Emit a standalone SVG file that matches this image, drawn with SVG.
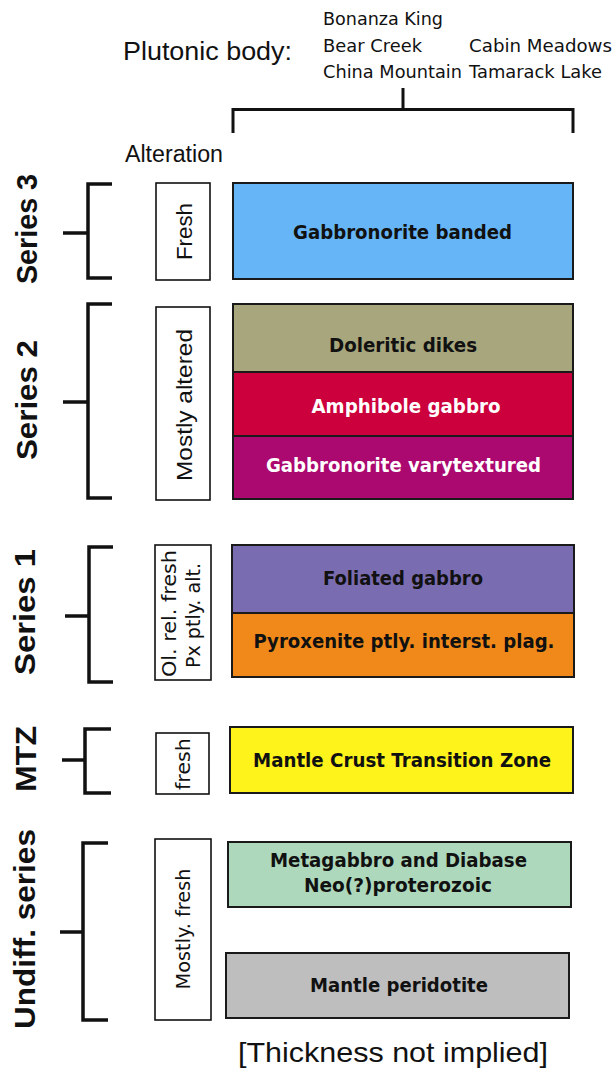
<svg xmlns="http://www.w3.org/2000/svg" width="614" height="1068" viewBox="0 0 614 1068">
<style>
.bg{fill:#ffffff}
.br{fill:none;stroke:#111;stroke-width:3.5;stroke-linecap:butt;stroke-linejoin:miter}
.alt{fill:#ffffff;stroke:#111;stroke-width:1.6}
.lay{stroke:#1a1a1a;stroke-width:2}
.ser{font-family:"Liberation Sans",Arial,sans-serif;font-weight:bold;font-size:30px;fill:#111;text-anchor:middle}
.at{font-family:"Liberation Sans",Arial,sans-serif;font-size:22px;fill:#111;text-anchor:middle}
.at2{font-family:"DejaVu Sans",Verdana,sans-serif;font-size:20px;fill:#111;text-anchor:middle}
.lt{font-family:"DejaVu Sans",Verdana,sans-serif;font-weight:bold;font-size:20px;fill:#111;text-anchor:middle}
.wt{fill:#ffffff}
.pb{font-family:"DejaVu Sans",Verdana,sans-serif;font-size:18px;fill:#111}
.hd{font-family:"Liberation Sans",Arial,sans-serif;fill:#111}
</style>
<rect class="bg" x="0" y="0" width="614" height="1068"/>

<g id="header">
<text class="hd" x="123" y="60" font-size="26" textLength="169" lengthAdjust="spacingAndGlyphs">Plutonic body:</text>
<text class="pb" x="323" y="25" textLength="120" lengthAdjust="spacingAndGlyphs">Bonanza King</text>
<text class="pb" x="323" y="52" textLength="99" lengthAdjust="spacingAndGlyphs">Bear Creek</text>
<text class="pb" x="323" y="78" textLength="139" lengthAdjust="spacingAndGlyphs">China Mountain</text>
<text class="pb" x="469" y="52" textLength="143" lengthAdjust="spacingAndGlyphs">Cabin Meadows</text>
<text class="pb" x="469" y="78" textLength="133" lengthAdjust="spacingAndGlyphs">Tamarack Lake</text>
<text class="hd" x="125" y="162" font-size="23" textLength="98" lengthAdjust="spacingAndGlyphs">Alteration</text>
</g>

<g id="connectors">
<path class="br" style="stroke-width:3" d="M233,133 V109.5 H573 V133 M403,88 V109.5"/>
<path class="br" d="M112,184 H88 V278 H112 M63,233 H88"/>
<path class="br" d="M112,304 H88 V498 H112 M63,402 H88"/>
<path class="br" d="M113,547 H89 V682 H113 M65,616 H89"/>
<path class="br" d="M111,729 H85 V793 H111 M62,760 H85"/>
<path class="br" d="M108,843 H83 V1020 H108 M60,932 H83"/>
</g>

<g id="series3">
<text class="ser" transform="translate(37,229) rotate(-90)" textLength="110" lengthAdjust="spacingAndGlyphs">Series 3</text>
<rect class="alt" x="156" y="183" width="54" height="97"/>
<text class="at" transform="translate(192,231.5) rotate(-90)" textLength="57" lengthAdjust="spacingAndGlyphs">Fresh</text>
<rect class="lay" x="233" y="183" width="340" height="96" fill="#66b5f6"/>
<text class="lt" x="402.5" y="239" textLength="219" lengthAdjust="spacingAndGlyphs">Gabbronorite banded</text>
</g>

<g id="series2">
<text class="ser" transform="translate(37,400) rotate(-90)" textLength="120" lengthAdjust="spacingAndGlyphs">Series 2</text>
<rect class="alt" x="156" y="307" width="54" height="193"/>
<text class="at" transform="translate(192,405) rotate(-90)" textLength="152" lengthAdjust="spacingAndGlyphs">Mostly altered</text>
<rect class="lay" x="233" y="304" width="340" height="68" fill="#a8a67c"/>
<text class="lt" x="403" y="352" textLength="148" lengthAdjust="spacingAndGlyphs">Doleritic dikes</text>
<rect class="lay" x="233" y="372" width="340" height="64" fill="#cc003c"/>
<text class="lt wt" x="406" y="413" textLength="189" lengthAdjust="spacingAndGlyphs">Amphibole gabbro</text>
<rect class="lay" x="233" y="436" width="340" height="63" fill="#ab0870"/>
<text class="lt wt" x="403.5" y="472" textLength="275" lengthAdjust="spacingAndGlyphs">Gabbronorite varytextured</text>
</g>

<g id="series1">
<text class="ser" transform="translate(35,612) rotate(-90)" textLength="126" lengthAdjust="spacingAndGlyphs">Series 1</text>
<rect class="alt" x="155" y="545" width="56" height="135"/>
<text class="at2" transform="translate(176,613.5) rotate(-90)" textLength="127" lengthAdjust="spacingAndGlyphs">Ol. rel. fresh</text>
<text class="at2" transform="translate(200,615.5) rotate(-90)" textLength="105" lengthAdjust="spacingAndGlyphs">Px ptly. alt.</text>
<rect class="lay" x="232" y="545" width="342" height="68" fill="#7a6cb0"/>
<text class="lt" x="403" y="585" textLength="160" lengthAdjust="spacingAndGlyphs">Foliated gabbro</text>
<rect class="lay" x="232" y="613" width="342" height="64" fill="#f0891a"/>
<text class="lt" x="404" y="648" textLength="301" lengthAdjust="spacingAndGlyphs">Pyroxenite ptly. interst. plag.</text>
</g>

<g id="mtz">
<text class="ser" transform="translate(36,759) rotate(-90)" textLength="66" lengthAdjust="spacingAndGlyphs">MTZ</text>
<rect class="alt" x="156" y="733" width="53" height="61"/>
<text class="at2" transform="translate(190,764) rotate(-90)" textLength="52" lengthAdjust="spacingAndGlyphs">fresh</text>
<rect class="lay" x="230" y="727" width="343" height="66" fill="#fff31c"/>
<text class="lt" x="402" y="767" textLength="298" lengthAdjust="spacingAndGlyphs">Mantle Crust Transition Zone</text>
</g>

<g id="undiff">
<text class="ser" transform="translate(35,929) rotate(-90)" textLength="200" lengthAdjust="spacingAndGlyphs">Undiff. series</text>
<rect class="alt" x="155" y="839" width="56" height="181"/>
<text class="at2" transform="translate(190,929) rotate(-90)" textLength="121" lengthAdjust="spacingAndGlyphs">Mostly. fresh</text>
<rect class="lay" x="228" y="842" width="343" height="65" fill="#aed8bc"/>
<text class="lt" x="398.5" y="867" textLength="257" lengthAdjust="spacingAndGlyphs">Metagabbro and Diabase</text>
<text class="lt" x="398" y="892" textLength="188" lengthAdjust="spacingAndGlyphs">Neo(?)proterozoic</text>
<rect class="lay" x="226" y="953" width="343" height="65" fill="#bebebe"/>
<text class="lt" x="399" y="992" textLength="178" lengthAdjust="spacingAndGlyphs">Mantle peridotite</text>
</g>

<g id="footer">
<text class="hd" x="238" y="1062" font-size="28" textLength="310" lengthAdjust="spacingAndGlyphs">[Thickness not implied]</text>
</g>
</svg>
